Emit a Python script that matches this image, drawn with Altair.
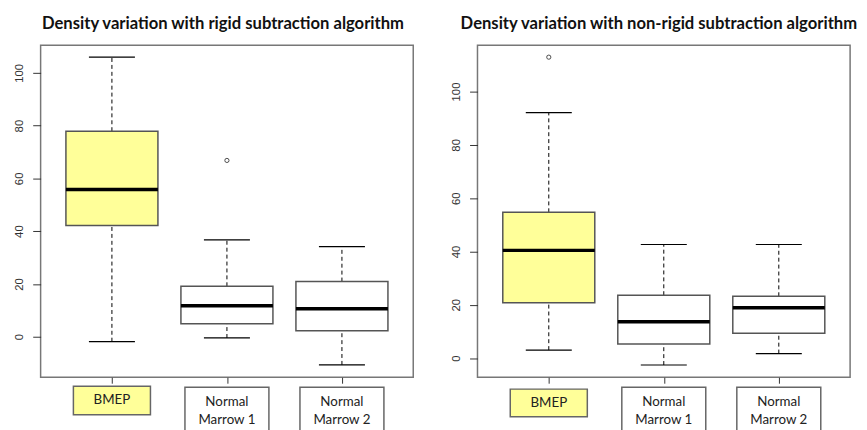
import altair as alt
import pandas as pd

categories = ["BMEP", "Normal Marrow 1", "Normal Marrow 2"]
positions = [1, 2, 3]
label_line1 = ["BMEP", "Normal", "Normal"]
label_line2 = ["", "Marrow 1", "Marrow 2"]
y_ticks = [0, 20, 40, 60, 80, 100]

# rigid subtraction
rigid_low = [-1.9, -0.5, -10.7]
rigid_q1 = [42.1, 4.9, 2.2]
rigid_med = [55.8, 11.7, 10.6]
rigid_q3 = [77.9, 19.1, 20.9]
rigid_high = [106.0, 36.7, 34.1]
rigid_out_pos = [2]
rigid_out_val = [66.8]
rigid_domain = [-15.4, 110.5]

# non-rigid subtraction
nonrigid_low = [3.0, -2.6, 1.7]
nonrigid_q1 = [20.8, 5.3, 9.3]
nonrigid_med = [40.4, 13.6, 18.9]
nonrigid_q3 = [54.7, 23.6, 23.2]
nonrigid_high = [92.1, 42.6, 42.6]
nonrigid_out_pos = [1]
nonrigid_out_val = [112.9]
nonrigid_domain = [-7.2, 117.4]

YELLOW = "#FFFF99"
FONT = "Lato"


def panel(title, low, q1, med, q3, high, out_pos, out_val, domain, bmep_off, title_dx):
    df = pd.DataFrame({
        "cat": categories, "pos": positions, "low": low, "q1": q1, "med": med,
        "q3": q3, "high": high, "l1": label_line1, "l2": label_line2,
    })
    df["bl"] = df["pos"] - 0.4
    df["br"] = df["pos"] + 0.4
    df["cl"] = df["pos"] - 0.2
    df["cr"] = df["pos"] + 0.2
    df["ybase"] = domain[0]
    df["fill"] = [YELLOW if c == "BMEP" else "white" for c in categories]
    df["lw"] = [0.335 if c == "BMEP" else 0.365 for c in categories]
    df["ll"] = df["pos"] - df["lw"]
    df["lr"] = df["pos"] + df["lw"]
    odf = pd.DataFrame({"pos": out_pos, "val": out_val})

    xs = alt.Scale(domain=[0.38, 3.62], nice=False, zero=False)
    ys = alt.Scale(domain=domain, nice=False, zero=False)
    xax = alt.Axis(values=positions, labels=False, title=None, domain=False,
                   grid=False, tickSize=6, tickColor="#333", tickWidth=1)
    yax = alt.Axis(values=y_ticks, title=None, domain=False, grid=False,
                   tickSize=8, tickColor="#333", tickWidth=1, labelAngle=-90,
                   labelAlign="center", labelBaseline="bottom", labelPadding=8,
                   labelFont="Liberation Sans", labelFontSize=11.5, labelColor="#333")

    base = alt.Chart(df)
    whisk_hi = base.mark_rule(color="black", strokeWidth=1, strokeDash=[4, 3]).encode(
        x=alt.X("pos:Q", scale=xs, axis=xax), y=alt.Y("q3:Q", scale=ys, axis=yax), y2="high:Q")
    whisk_lo = base.mark_rule(color="black", strokeWidth=1, strokeDash=[4, 3]).encode(
        x="pos:Q", y="low:Q", y2="q1:Q")
    cap_hi = base.mark_rule(color="black", strokeWidth=1.2).encode(x="cl:Q", x2="cr:Q", y="high:Q")
    cap_lo = base.mark_rule(color="black", strokeWidth=1.2).encode(x="cl:Q", x2="cr:Q", y="low:Q")
    box = base.mark_rect(stroke="#555", strokeWidth=1.5).encode(
        x="bl:Q", x2="br:Q", y="q1:Q", y2="q3:Q",
        fill=alt.Fill("fill:N", scale=None))
    median = base.mark_rule(color="black", strokeWidth=3.5).encode(x="bl:Q", x2="br:Q", y="med:Q")
    outl = alt.Chart(odf).mark_point(shape="circle", filled=False, color="black",
                                      size=18, strokeWidth=1).encode(x="pos:Q", y="val:Q")

    bmep = base.transform_filter(alt.datum.cat == "BMEP")
    norm = base.transform_filter(alt.datum.cat != "BMEP")
    lab_b = bmep.mark_rect(clip=False, stroke="#666", strokeWidth=1.5,
                           yOffset=bmep_off[0], y2Offset=bmep_off[1]).encode(
        x="ll:Q", x2="lr:Q", y="ybase:Q", y2="ybase:Q", fill=alt.Fill("fill:N", scale=None))
    lab_n = norm.mark_rect(clip=False, stroke="#666", strokeWidth=1.5,
                           yOffset=10, y2Offset=70).encode(
        x="ll:Q", x2="lr:Q", y="ybase:Q", y2="ybase:Q", fill=alt.Fill("fill:N", scale=None))
    txt_b = bmep.mark_text(font=FONT, fontSize=13.5, color="#222", baseline="middle",
                           yOffset=(bmep_off[0] + bmep_off[1]) / 2).encode(
        x="pos:Q", y="ybase:Q", text="l1:N")
    txt_n1 = norm.mark_text(font=FONT, fontSize=13.5, color="#222", baseline="middle",
                            yOffset=25).encode(x="pos:Q", y="ybase:Q", text="l1:N")
    txt_n2 = norm.mark_text(font=FONT, fontSize=13.5, color="#222", baseline="middle",
                            yOffset=43).encode(x="pos:Q", y="ybase:Q", text="l2:N")

    return alt.layer(whisk_hi, whisk_lo, cap_hi, cap_lo, box, median, outl,
                     lab_b, lab_n, txt_b, txt_n1, txt_n2).properties(
        width=377, height=336,
        title=alt.TitleParams(title, font=FONT, fontSize=16.8, fontWeight="bold",
                              color="#111", anchor="middle", offset=13, dx=title_dx))


left = panel("Density variation with rigid subtraction algorithm", rigid_low, rigid_q1,
             rigid_med, rigid_q3, rigid_high, rigid_out_pos, rigid_out_val, rigid_domain,
             (9, 38), -4)
right = panel("Density variation with non-rigid subtraction algorithm", nonrigid_low, nonrigid_q1,
              nonrigid_med, nonrigid_q3, nonrigid_high, nonrigid_out_pos, nonrigid_out_val,
              nonrigid_domain, (12, 40), -5)

chart = alt.hconcat(left, right, spacing=36).properties(
    padding={"left": 5, "top": 4, "right": 0, "bottom": 0}
).configure_view(stroke="#777", strokeWidth=1.5)

chart.save("out.html", embed_options={"renderer": "svg", "actions": False})
